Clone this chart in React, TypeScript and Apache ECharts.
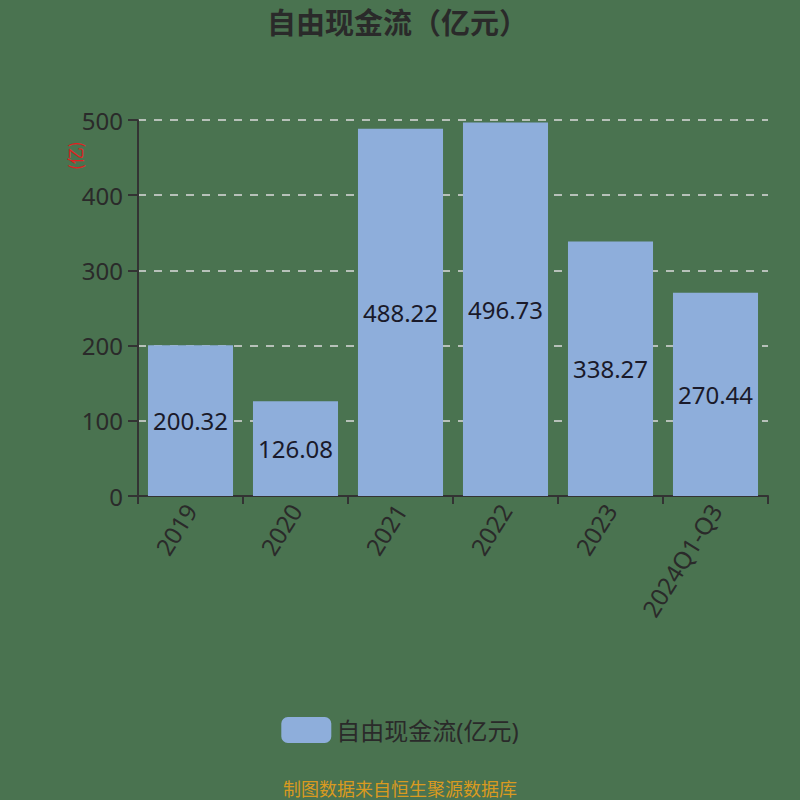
import React, { useEffect, useRef } from "react";
import * as echarts from "echarts";

const categories = ["2019", "2020", "2021", "2022", "2023", "2024Q1-Q3"];
const values = [200.32, 126.08, 488.22, 496.73, 338.27, 270.44];
const seriesName = "自由现金流(亿元)";
const titleText = "自由现金流（亿元）";
const unitText = "(亿)";
const footerText = "制图数据来自恒生聚源数据库";

export default function App() {
  const ref = useRef<HTMLDivElement>(null);
  useEffect(() => {
    if (!ref.current) return;
    const chart = echarts.init(ref.current, undefined, { renderer: "svg" });
    chart.setOption({
      animation: false,
      backgroundColor: "#4a7350",
      textStyle: { fontFamily: "Noto Sans, Noto Sans CJK SC, sans-serif" },
      title: {
        text: titleText,
        left: 262,
        top: 3,
        textStyle: { fontSize: 29, fontWeight: "bold", color: "#2a2a2a" },
      },
      grid: { left: 138, right: 32, top: 120, bottom: 304, containLabel: false },
      legend: {
        bottom: 52,
        left: "center",
        itemWidth: 50,
        itemHeight: 26,
        itemGap: 10,
        textStyle: { fontSize: 24, color: "#2a2a2a" },
        data: [seriesName],
      },
      xAxis: {
        type: "category",
        data: categories,
        axisLine: { lineStyle: { color: "#333", width: 2 } },
        axisTick: { show: true, length: 8, lineStyle: { color: "#333", width: 2 } },
        axisLabel: { rotate: 58, fontSize: 24, color: "#2a2a2a", margin: 10 },
      },
      yAxis: {
        type: "value",
        min: 0,
        max: 500,
        interval: 100,
        axisLine: { show: true, lineStyle: { color: "#333", width: 2 } },
        axisTick: { show: true, length: 10, lineStyle: { color: "#333", width: 2 } },
        axisLabel: { fontSize: 24, color: "#2a2a2a", margin: 15 },
        splitLine: { show: true, lineStyle: { type: [8, 8], color: "#dcdcdc", width: 1.5 } },
      },
      graphic: [
        {
          type: "text",
          x: 66,
          y: 170,
          rotation: Math.PI / 2,
          style: { text: unitText, fontSize: 17, fill: "#e02020", fontFamily: "Noto Sans CJK SC, sans-serif" },
        },
        {
          type: "text",
          left: "center",
          top: 779,
          style: { text: footerText, fontSize: 18, fill: "#d99a20", fontFamily: "Noto Sans CJK SC, sans-serif" },
        },
      ],
      series: [
        {
          name: seriesName,
          type: "bar",
          data: values,
          barWidth: "81%",
          itemStyle: { color: "#8eaedb" },
          label: {
            show: true,
            position: "inside",
            fontSize: 24,
            color: "#1a1a2a",
          },
        },
      ],
    });
    return () => chart.dispose();
  }, []);
  return (
    <div
      ref={ref}
      style={{ position: "fixed", left: 0, top: 0, width: 800, height: 800 }}
    />
  );
}
